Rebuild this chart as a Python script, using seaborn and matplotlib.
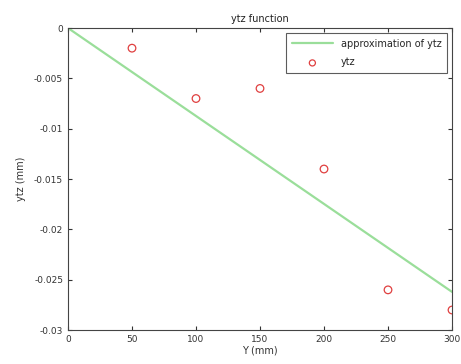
import matplotlib
matplotlib.use("Agg")
import matplotlib.pyplot as plt
import seaborn as sns
import pandas as pd

# Measured deflection samples
y_pos = [50, 100, 150, 200, 250, 300]
ytz = [-0.002, -0.007, -0.006, -0.014, -0.026, -0.028]

# Linear approximation through the origin
approx_x = [0, 300]
approx_y = [0.0, -0.0262]

sns.set_style("white")
plt.rcParams["font.family"] = ["DejaVu Sans"]

fig = plt.figure(figsize=(4.61, 3.64), dpi=100)
ax = fig.add_axes([0.1475, 0.093, 0.833, 0.83])

df_fit = pd.DataFrame({"x": approx_x, "y": approx_y})
df_pts = pd.DataFrame({"x": y_pos, "y": ytz})

sns.lineplot(data=df_fit, x="x", y="y", ax=ax, color="#9ade9a", linewidth=1.6,
             label="approximation of ytz")
sns.scatterplot(data=df_pts, x="x", y="y", ax=ax, marker="o", s=30,
                facecolor="none", edgecolor="#e04040", linewidth=0.9, label="ytz")

ax.set_xlim(0, 300)
ax.set_ylim(-0.03, 0)
ax.set_xticks([0, 50, 100, 150, 200, 250, 300])
ax.set_yticks([0, -0.005, -0.01, -0.015, -0.02, -0.025, -0.03])
ax.set_yticklabels(["0", "-0.005", "-0.01", "-0.015", "-0.02", "-0.025", "-0.03"])
ax.tick_params(direction="in", length=3, labelsize=6.5, colors="#333333",
               top=True, right=True, bottom=True, left=True)
for s in ax.spines.values():
    s.set_color("#444444")
    s.set_linewidth(0.8)

ax.set_title("ytz function", fontsize=7, color="#222222", pad=4)
ax.set_xlabel("Y (mm)", fontsize=7, color="#333333", labelpad=1)
ax.set_ylabel("ytz (mm)", fontsize=7, color="#333333", labelpad=6)

leg = ax.legend(loc="upper right", fontsize=7, frameon=True, fancybox=False,
                borderaxespad=0.5, handlelength=4.2, labelspacing=0.9,
                borderpad=0.6, markerscale=0.8)
leg.get_frame().set_edgecolor("#333333")
leg.get_frame().set_linewidth(0.8)

fig.savefig("out.png", dpi=100)
